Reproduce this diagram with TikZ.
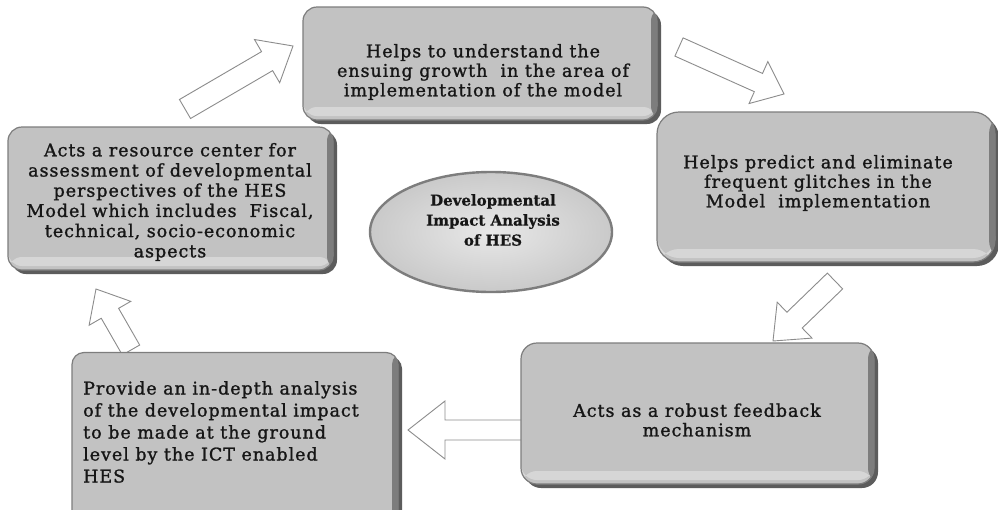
\documentclass[tikz,border=0pt]{standalone}
\usepackage{fontspec}
\setmainfont{DejaVu Serif}[LetterSpace=5.5, FakeBold=1.3]
\newfontfamily\hubfont{DejaVu Serif}[FakeBold=0.6]
\usetikzlibrary{calc,shapes.geometric,shadows}

\definecolor{boxface}{RGB}{194,194,194}
\definecolor{boxedge}{RGB}{125,125,125}
\definecolor{boxshadow}{RGB}{92,92,92}
\definecolor{boxlight}{RGB}{214,214,214}
\definecolor{arrowline}{RGB}{140,140,140}
\definecolor{ink}{RGB}{22,22,22}

% hollow block arrow from #1 to #2: half shaft width #3, half head width #4, head length #5
\newcommand\blockarrow[5]{%
  \path[hollowarrow] let \p1=(#1), \p2=(#2),
      \n1={atan2(\y2-\y1,\x2-\x1)}, \n2={veclen(\x2-\x1,\y2-\y1)} in
    ($(\p1)+({\n1+90}:#3)$)
    -- ($(\p1)+({\n1}:{\n2-#5})+({\n1+90}:#3)$)
    -- ($(\p1)+({\n1}:{\n2-#5})+({\n1+90}:#4)$)
    -- (\p2)
    -- ($(\p1)+({\n1}:{\n2-#5})+({\n1-90}:#4)$)
    -- ($(\p1)+({\n1}:{\n2-#5})+({\n1-90}:#3)$)
    -- ($(\p1)+({\n1-90}:#3)$) -- cycle;}

\tikzset{
  panel/.style={rectangle, draw=boxedge, line width=1.2pt, fill=boxface,
    drop shadow={shadow xshift=4pt, shadow yshift=-4pt, fill=boxshadow, opacity=1},
    path picture={
      \fill[boxlight] ([yshift=4pt]path picture bounding box.south west)
        rectangle ([yshift=13pt]path picture bounding box.south east);
      \fill[boxedge] ([xshift=-6pt]path picture bounding box.north east)
        rectangle (path picture bounding box.south east);
    }},
  txt/.style={align=center, inner sep=0pt, text=ink, font=\fontsize{17.5}{19.5}\selectfont},
  hollowarrow/.style={draw=arrowline, fill=white, line width=0.9pt, line join=miter},
  hub/.style={ellipse, draw=boxedge, line width=2.4pt, inner color=gray!18, outer color=gray!42,
    minimum width=242pt, minimum height=120pt}
}

\begin{document}
\begin{tikzpicture}[x=1pt,y=-1pt]
\useasboundingbox (0,0) rectangle (998,509);
\fill[white] (0,0) rectangle (998,509);

% arrow end points
\coordinate (a1t) at (185,109);  \coordinate (a1h) at (293,46);
\coordinate (a2t) at (679,47);   \coordinate (a2h) at (784,94);
\coordinate (a3t) at (835,281);  \coordinate (a3h) at (773,341);
\coordinate (a4t) at (530,430);  \coordinate (a4h) at (408,430);
\coordinate (a5t) at (131,350);  \coordinate (a5h) at (96,289);

\blockarrow{a1t}{a1h}{11pt}{25pt}{30pt}
\blockarrow{a2t}{a2h}{10pt}{23pt}{28pt}
\blockarrow{a3t}{a3h}{11pt}{25pt}{30pt}
\blockarrow{a4t}{a4h}{10pt}{29pt}{37pt}
\blockarrow{a5t}{a5h}{10pt}{24pt}{28pt}

% boxes of the cycle
\node[panel, rounded corners=14pt, minimum width=354pt, minimum height=113pt] (top) at (480,63.5) {};
\node[panel, rounded corners=14pt, minimum width=325pt, minimum height=143pt] (left) at (170.5,198.5) {};
\node[panel, rounded corners=22pt, minimum width=338pt, minimum height=150pt] (right) at (826,187) {};
\node[panel, rounded corners=16pt, minimum width=353pt, minimum height=141pt] (botr) at (697.5,413.5) {};
\node[panel, rounded corners=12pt, minimum width=326pt, minimum height=175pt] (botl) at (235,440) {};

% centre ellipse
\node[hub] (hub) at (491,232) {};
\node[txt, font=\hubfont\bfseries\fontsize{15}{20}\selectfont] (hubt) at (493,220)
  {Developmental\\Impact Analysis\\of HES};

% texts
\node[txt] (topt) at (483,72)
  {Helps to understand the\\ensuing growth \ in the area of\\implementation of the model};
\node[txt, font=\fontsize{17.5}{20.2}\selectfont] (leftt) at (170,202)
  {Acts a resource center for\\assessment of developmental\\perspectives of the HES\\Model which includes \ Fiscal,\\technical, socio-economic\\aspects};
\node[txt] (rightt) at (818,183)
  {Helps predict and eliminate\\frequent glitches in the\\Model \ implementation};
\node[txt] (botrt) at (697,420)
  {Acts as a robust feedback\\mechanism};
\node[txt, align=left, anchor=north west, font=\fontsize{17.5}{22}\selectfont] (botlt) at (83,381)
  {Provide an in-depth analysis\\of the developmental impact\\to be made at the ground\\level by the ICT enabled\\HES};
\end{tikzpicture}
\end{document}
